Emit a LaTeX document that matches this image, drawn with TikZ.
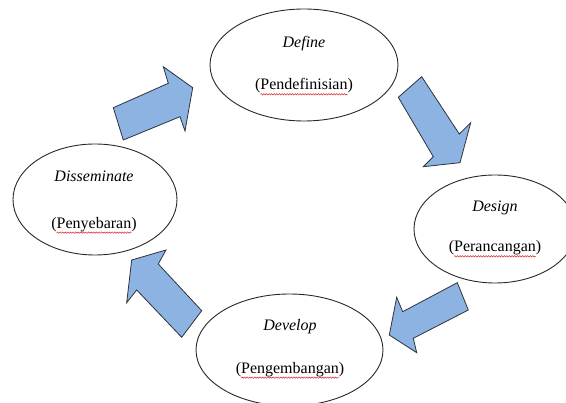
\documentclass[tikz,border=0pt]{standalone}
\usepackage{fontspec}
\setmainfont{Liberation Serif}
\usetikzlibrary{shapes.geometric,decorations.pathmorphing}
\definecolor{arrowfill}{RGB}{141,179,226}
\definecolor{arrowline}{RGB}{45,50,60}
\definecolor{ovalline}{RGB}{40,40,40}
\definecolor{spellred}{RGB}{220,40,40}
\tikzset{
  oval/.style={ellipse, draw=ovalline, line width=0.9pt, fill=white, inner sep=0pt},
  blockarrow/.style={fill=arrowfill, draw=arrowline, line width=0.8pt, line join=miter},
  label/.style={anchor=base, inner sep=0pt, font=\fontsize{16}{19}\selectfont},
  wavy/.style={spellred, line width=0.5pt, decorate, decoration={snake, amplitude=0.7pt, segment length=2.6pt}}
}
\begin{document}
\begin{tikzpicture}[x=1pt, y=-1pt]
\useasboundingbox (0,0) rectangle (566,403);
% ovals
\node[oval, minimum width=188pt, minimum height=112pt] (define) at (304,65) {};
\node[oval, minimum width=162pt, minimum height=108pt] (design) at (495,229) {};
\node[oval, minimum width=187pt, minimum height=112pt] (develop) at (289.5,350) {};
\node[oval, minimum width=164pt, minimum height=111pt] (dissem) at (95,199.5) {};
% texts
\node[label] (defineA) at (304,47.7) {\textit{Define}};
\node[label] (defineB) at (304,90) {(Pendefinisian)};
\node[label] (designA) at (495,211.7) {\textit{Design}};
\node[label] (designB) at (495,252) {(Perancangan)};
\node[label] (developA) at (290,330.7) {\textit{Develop}};
\node[label] (developB) at (290,373.3) {(Pengembangan)};
\node[label] (dissemA) at (94,181.7) {\textit{Disseminate}};
\node[label] (dissemB) at (94,228.3) {(Penyebaran)};
% spell-check underlines
\draw[wavy] ([shift={(5.5,4.3)}]defineB.base west) -- ([shift={(-5.5,4.3)}]defineB.base east);
\draw[wavy] ([shift={(5.5,4.3)}]designB.base west) -- ([shift={(-5.5,4.3)}]designB.base east);
\draw[wavy] ([shift={(5.5,4.3)}]developB.base west) -- ([shift={(-5.5,4.3)}]developB.base east);
\draw[wavy] ([shift={(5.5,4.3)}]dissemB.base west) -- ([shift={(-5.5,4.3)}]dissemB.base east);
% block arrows
% Disseminate -> Define
\draw[blockarrow] (113.3,107.7) -- (168.3,83.3) -- (163.3,66.7) -- (192.7,87.7) -- (185,131) -- (180,116.7) -- (123.3,140) -- cycle;
% Define -> Design
\draw[blockarrow] (421.7,76.7) -- (459.3,134) -- (470.7,122.7) -- (460,162.7) -- (423.3,166.7) -- (433.3,156.7) -- (398.3,97.3) -- cycle;
% Design -> Develop
\draw[blockarrow] (457.3,282.7) -- (468.3,310) -- (413.3,338.3) -- (416.7,352.7) -- (389.3,335) -- (396.7,297.3) -- (402.7,311.7) -- cycle;
% Develop -> Disseminate
\draw[blockarrow] (201.7,310.7) -- (181.7,337.3) -- (136.7,290) -- (126.7,302.7) -- (131.7,260) -- (166,250) -- (158.3,264) -- cycle;
\end{tikzpicture}
\end{document}
